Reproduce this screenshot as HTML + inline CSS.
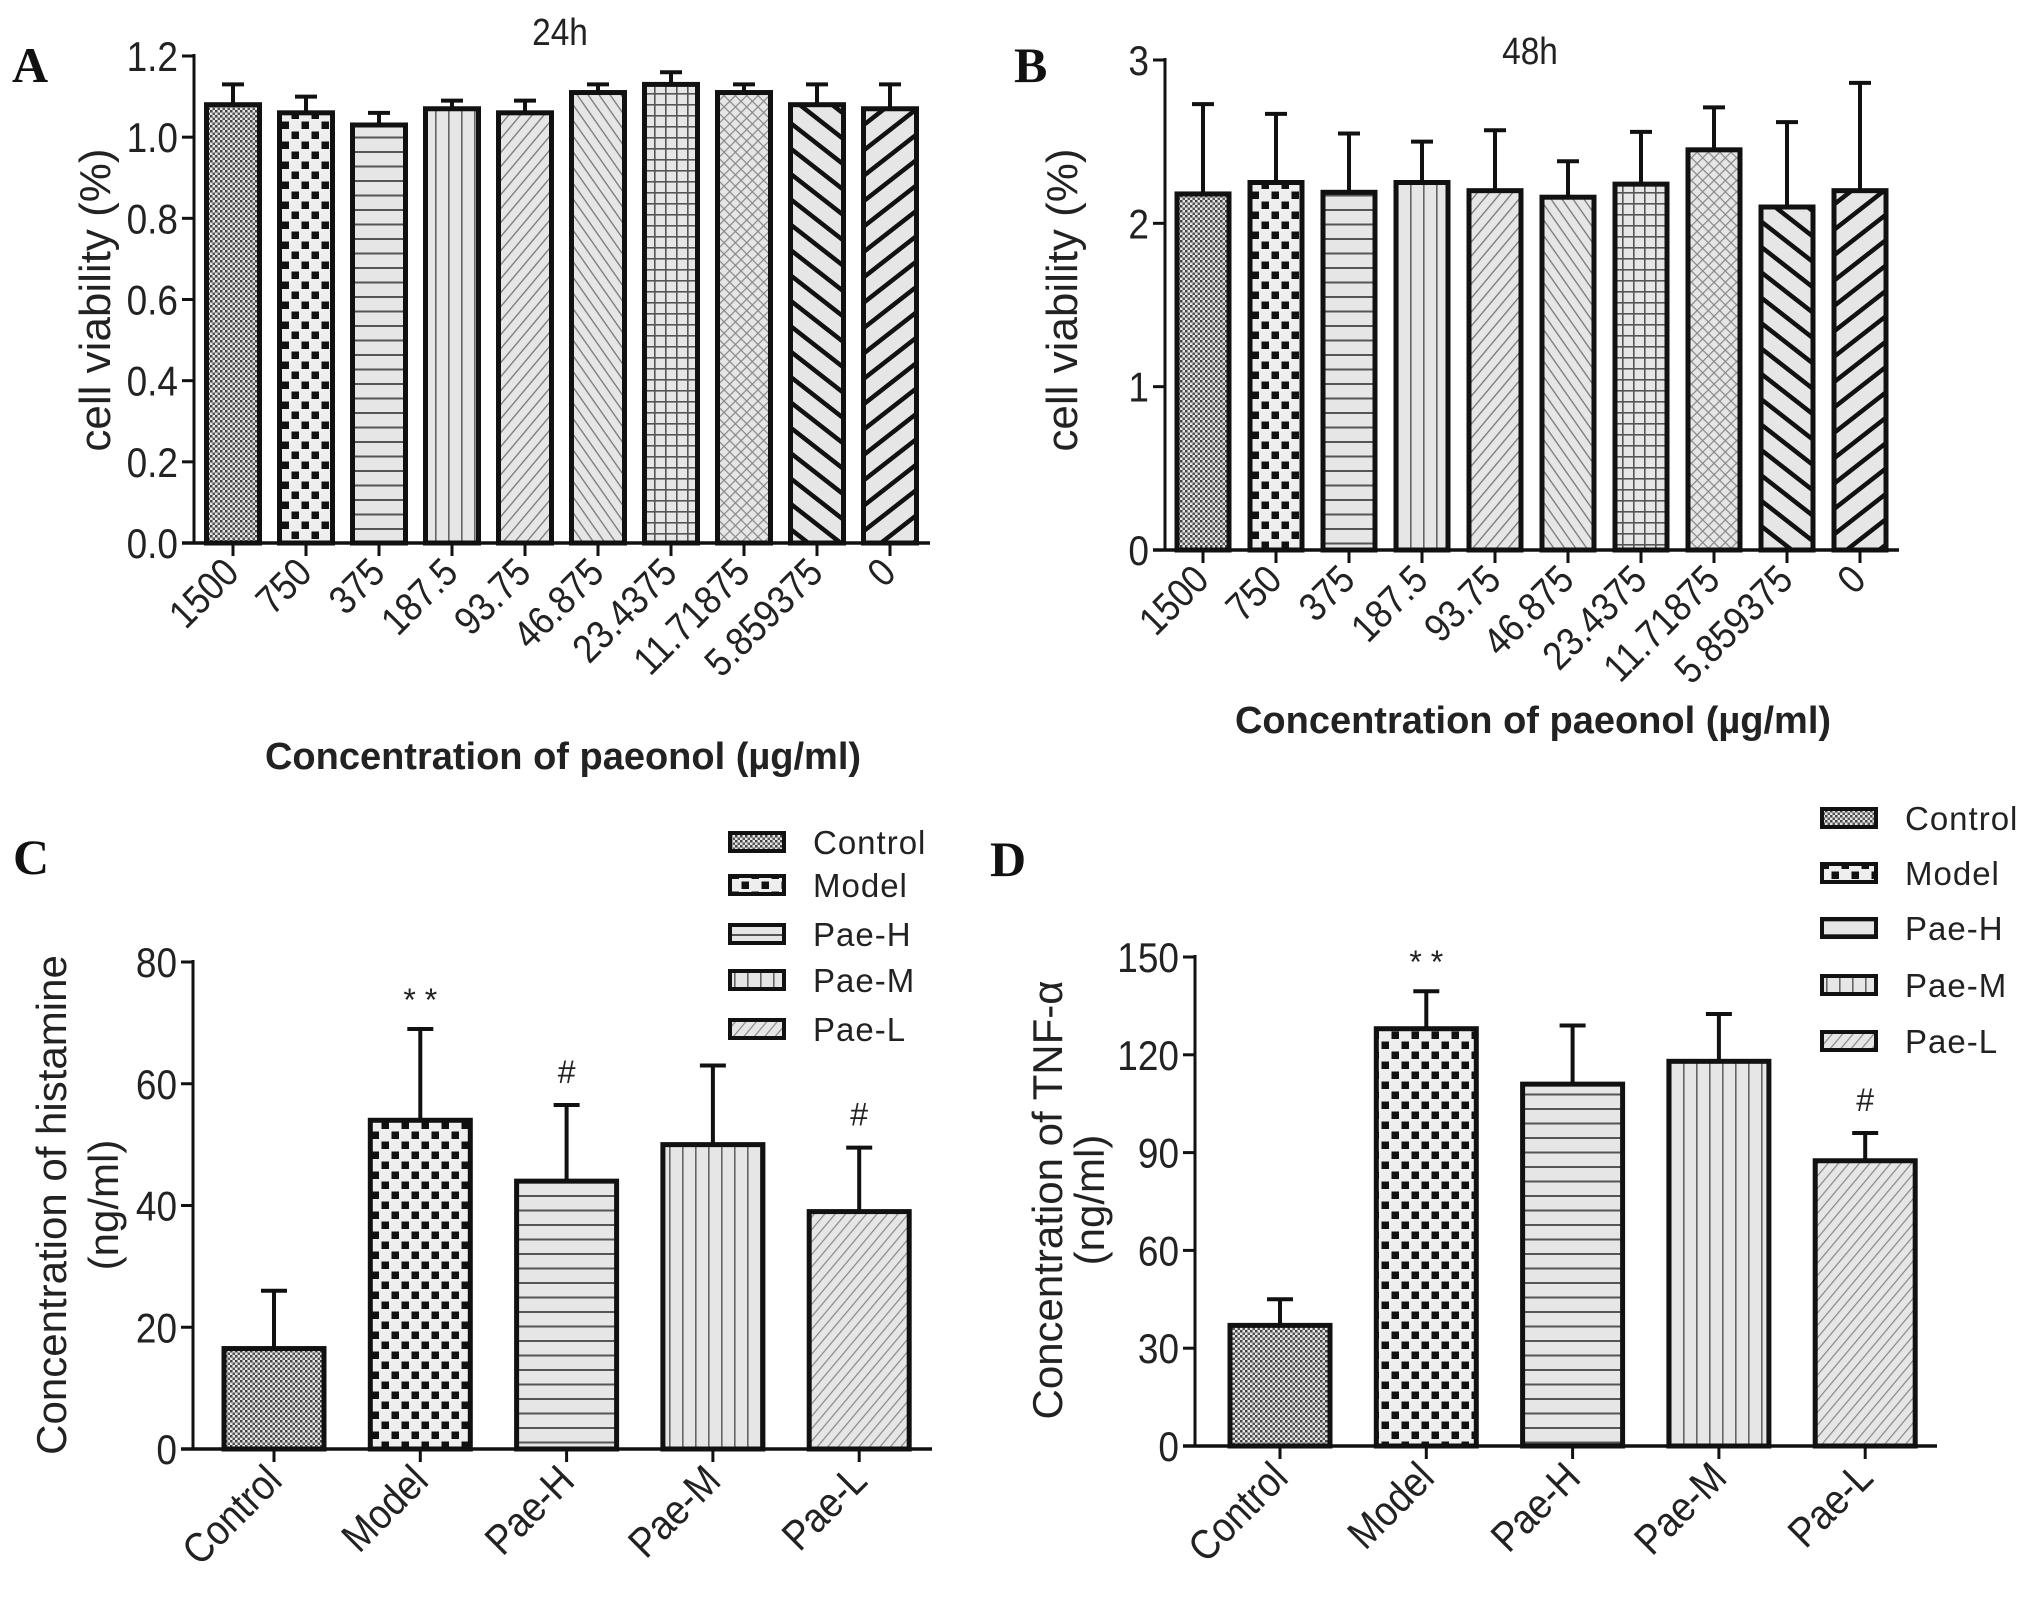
<!DOCTYPE html>
<html><head><meta charset="utf-8"><style>
html,body{margin:0;padding:0;background:#fff;}
svg{display:block;}
text{font-family:"Liberation Sans",Arial,sans-serif;fill:#222;}
.letter{font-family:"Liberation Serif",serif;font-weight:bold;fill:#111;}
</style></head><body>
<svg id="fig" width="2031" height="1605" viewBox="0 0 2031 1605" xmlns="http://www.w3.org/2000/svg">
<defs>
  <pattern id="p-control" width="5" height="5" patternUnits="userSpaceOnUse"><rect width="5" height="5" fill="#e6e6e6"/><rect width="2.5" height="2.5" fill="#444"/><rect x="2.5" y="2.5" width="2.5" height="2.5" fill="#555"/></pattern>
  <pattern id="p-model" width="20" height="20" patternUnits="userSpaceOnUse"><rect width="20" height="20" fill="#eee"/><rect x="1.5" y="1.5" width="7.5" height="7.5" fill="#111"/><rect x="11.5" y="11.5" width="7.5" height="7.5" fill="#111"/></pattern>
  <pattern id="p-horiz" width="10" height="14.5" patternUnits="userSpaceOnUse"><rect width="10" height="14.5" fill="#e6e6e6"/><rect y="6" width="10" height="2" fill="#555"/></pattern>
  <pattern id="p-vert" width="13" height="10" patternUnits="userSpaceOnUse"><rect width="13" height="10" fill="#e6e6e6"/><rect x="6" width="1.6" height="10" fill="#666"/></pattern>
  <pattern id="p-fwd" width="9" height="9" patternUnits="userSpaceOnUse" patternTransform="rotate(-50)"><rect width="9" height="9" fill="#e6e6e6"/><rect y="4" width="9" height="1.3" fill="#777"/></pattern>
  <pattern id="p-back" width="9" height="9" patternUnits="userSpaceOnUse" patternTransform="rotate(55)"><rect width="9" height="9" fill="#e6e6e6"/><rect y="4" width="9" height="1.3" fill="#777"/></pattern>
  <pattern id="p-grid" width="11" height="11" patternUnits="userSpaceOnUse"><rect width="11" height="11" fill="#e6e6e6"/><rect x="5" width="1.6" height="11" fill="#555"/><rect y="5" width="11" height="1.6" fill="#555"/></pattern>
  <pattern id="p-cross" width="8" height="8" patternUnits="userSpaceOnUse" patternTransform="rotate(45)"><rect width="8" height="8" fill="#e6e6e6"/><rect x="3" width="1.2" height="8" fill="#888"/><rect y="3" width="8" height="1.2" fill="#888"/></pattern>
  <pattern id="p-thickback" width="20" height="20" patternUnits="userSpaceOnUse" patternTransform="rotate(38)"><rect width="20" height="20" fill="#e6e6e6"/><rect y="8" width="20" height="4.5" fill="#111"/></pattern>
  <pattern id="p-thickfwd" width="20" height="20" patternUnits="userSpaceOnUse" patternTransform="rotate(-38)"><rect width="20" height="20" fill="#e6e6e6"/><rect y="8" width="20" height="4.5" fill="#111"/></pattern>
  <pattern id="p-fwdL" width="8" height="8" patternUnits="userSpaceOnUse" patternTransform="rotate(-50)"><rect width="8" height="8" fill="#e6e6e6"/><rect y="3.5" width="8" height="1.2" fill="#888"/></pattern>
</defs>
<g id="root"></g>
<text class="letter" x="12" y="82" font-size="50">A</text>
<text class="letter" x="1014" y="82" font-size="50">B</text>
<text class="letter" x="13" y="874" font-size="50">C</text>
<text class="letter" x="990" y="876" font-size="50">D</text>
<text class="nar" x="560" y="45" font-size="38" text-anchor="middle">24h</text>
<text class="nar" x="1530" y="64" font-size="38" text-anchor="middle">48h</text>
<text transform="translate(110,300) rotate(-90)" font-size="44" text-anchor="middle" fill="#333">cell viability (%)</text>
<text transform="translate(1077,300) rotate(-90)" font-size="44" text-anchor="middle" fill="#333">cell viability (%)</text>
<text x="563" y="769" font-size="38" font-weight="bold" text-anchor="middle" fill="#333">Concentration of paeonol (µg/ml)</text>
<text x="1533" y="733" font-size="38" font-weight="bold" text-anchor="middle" fill="#333">Concentration of paeonol (µg/ml)</text>
<text transform="translate(66,1205) rotate(-90)" font-size="42" text-anchor="middle" fill="#333">Concentration of histamine</text>
<text transform="translate(118,1205) rotate(-90)" font-size="42" text-anchor="middle" fill="#333">(ng/ml)</text>
<text transform="translate(1062,1200) rotate(-90)" font-size="42" text-anchor="middle" fill="#333">Concentration of TNF-α</text>
<text transform="translate(1104,1200) rotate(-90)" font-size="42" text-anchor="middle" fill="#333">(ng/ml)</text>
</svg>
<script>
// ---- Panel A data (24h) ----
const concCategories = ["1500","750","375","187.5","93.75","46.875","23.4375","11.71875","5.859375","0"];
const viability24 = [1.08,1.06,1.03,1.07,1.06,1.11,1.13,1.11,1.08,1.07];
const viability24ErrTop = [1.13,1.10,1.06,1.09,1.09,1.13,1.16,1.13,1.13,1.13];
const ticks24 = [0,0.2,0.4,0.6,0.8,1.0,1.2];
const tickLabels24 = ["0.0","0.2","0.4","0.6","0.8","1.0","1.2"];
// ---- Panel B data (48h) ----
const viability48 = [2.18,2.25,2.19,2.25,2.20,2.16,2.24,2.45,2.10,2.20];
const viability48ErrTop = [2.73,2.67,2.55,2.50,2.57,2.38,2.56,2.71,2.62,2.86];
const ticks48 = [0,1,2,3];
const tickLabels48 = ["0","1","2","3"];
// ---- Panel C data (histamine) ----
const groupCategories = ["Control","Model","Pae-H","Pae-M","Pae-L"];
const histamine = [16.5,54,44,50,39];
const histamineErrTop = [26,69,56.5,63,49.5];
const histamineMarks = ["","* *","#","","#"];
const ticksHist = [0,20,40,60,80];
const tickLabelsHist = ["0","20","40","60","80"];
// ---- Panel D data (TNF-a) ----
const tnf = [37,128,111,118,87.5];
const tnfErrTop = [45,139.5,129,132.5,96];
const tnfMarks = ["","* *","","","#"];
const ticksTnf = [0,30,60,90,120,150];
const tickLabelsTnf = ["0","30","60","90","120","150"];

const fills10 = ["p-control","p-model","p-horiz","p-vert","p-fwd","p-back","p-grid","p-cross","p-thickback","p-thickfwd"];
const fills5 = ["p-control","p-model","p-horiz","p-vert","p-fwdL"];

const NS = "http://www.w3.org/2000/svg";
const root = document.getElementById('root');
function mk(tag, attrs, parent){
  const e = document.createElementNS(NS, tag);
  for (const k in attrs) e.setAttribute(k, attrs[k]);
  (parent||root).appendChild(e);
  return e;
}

function panel(cfg){
  const g = mk('g', {});
  
  
  const yScale = v => cfg.y0 - (v - cfg.ymin)/(cfg.ymax - cfg.ymin)*(cfg.y0 - cfg.yTop);
  const xScale = i => cfg.firstX + i*cfg.pitch;
  cfg.values.forEach((v,i)=>{
    const cx = xScale(i);
    const yt = yScale(v);
    const eb = mk('line', {x1:cx, x2:cx, y1:yt, y2:yScale(cfg.err[i]), stroke:'#111','stroke-width':cfg.ebw}, g);
    
    
    const cap = mk('line', {x1:cx-cfg.cap/2, x2:cx+cfg.cap/2, y1:yScale(cfg.err[i]), y2:yScale(cfg.err[i]), stroke:'#111','stroke-width':cfg.ebw}, g);
    
    
    const r = mk('rect', {x:cx-cfg.bw/2, y:yt, width:cfg.bw, height:cfg.y0-yt, fill:'url(#'+cfg.fills[i]+')', stroke:'#111','stroke-width':cfg.bsw}, g);
    
    
    mk('line', {x1:cx, x2:cx, y1:cfg.y0, y2:cfg.y0+13, stroke:'#111','stroke-width':3}, g);
    const t = mk('text', {x:0, y:0, 'font-size':cfg.catFs, 'text-anchor':'end', 'class':'nar', transform:'translate('+(cx+cfg.catDx)+','+(cfg.y0+cfg.catDy)+') rotate(-45)'}, g);
    t.textContent = cfg.cats[i];
    
    
    if (cfg.marks && cfg.marks[i]){
      const m = mk('text', {x:cx, y:yScale(cfg.err[i]) - (cfg.marks[i]==='#'?22:18), 'font-size':32, 'text-anchor':'middle'}, g);
      m.textContent = cfg.marks[i];
      
      
    }
  });
  const ya = mk('line', {x1:cfg.x0, x2:cfg.x0, y1:cfg.yTop-2, y2:cfg.y0+1.5, stroke:'#111','stroke-width':3}, g);
  
  
  const xa = mk('line', {x1:cfg.x0-12, x2:cfg.xEnd, y1:cfg.y0, y2:cfg.y0, stroke:'#111','stroke-width':3.5}, g);
  
  
  cfg.ticks.forEach((tv,i)=>{
    const y = yScale(tv);
    mk('line', {x1:cfg.x0-12, x2:cfg.x0, y1:y, y2:y, stroke:'#111','stroke-width':3}, g);
    const t = mk('text', {x:cfg.x0-16, y:y+15, 'font-size':cfg.tickFs, 'text-anchor':'end', 'class':'nar'}, g);
    t.textContent = cfg.tickLabels[i];
    
    
  });
  return g;
}

panel({name:'panel-a-24h', x0:194, xEnd:930, y0:543, yTop:56, ymin:0, ymax:1.2, firstX:233, pitch:73, bw:53, cap:22, bsw:5, ebw:4,
  values:viability24, err:viability24ErrTop, cats:concCategories, fills:fills10, ticks:ticks24, tickLabels:tickLabels24, tickFs:42, catFs:40, catDx:8, catDy:32});
panel({name:'panel-b-48h', x0:1165, xEnd:1899, y0:550, yTop:60, ymin:0, ymax:3, firstX:1203, pitch:73, bw:52, cap:22, bsw:5, ebw:4,
  values:viability48, err:viability48ErrTop, cats:concCategories, fills:fills10, ticks:ticks48, tickLabels:tickLabels48, tickFs:42, catFs:40, catDx:8, catDy:32});
panel({name:'panel-c-histamine', x0:193, xEnd:932, y0:1449, yTop:962, ymin:0, ymax:80, firstX:274, pitch:146.3, bw:100, cap:26, bsw:5, ebw:4,
  values:histamine, err:histamineErrTop, cats:groupCategories, fills:fills5, marks:histamineMarks, ticks:ticksHist, tickLabels:tickLabelsHist, tickFs:42, catFs:42, catDx:10, catDy:34});
panel({name:'panel-d-tnf', x0:1195, xEnd:1937, y0:1446, yTop:957, ymin:0, ymax:150, firstX:1280, pitch:146.3, bw:100, cap:26, bsw:5, ebw:4,
  values:tnf, err:tnfErrTop, cats:groupCategories, fills:fills5, marks:tnfMarks, ticks:ticksTnf, tickLabels:tickLabelsTnf, tickFs:42, catFs:42, catDx:10, catDy:34});

function legend(x, ys, name){
  const g = mk('g', {});
  
  
  groupCategories.forEach((c,i)=>{
    const r = mk('rect', {x:x, y:ys[i]-9, width:54, height:18, fill:'url(#'+fills5[i]+')', stroke:'#111','stroke-width':4}, g);
    
    
    const t = mk('text', {x:x+83, y:ys[i]+12, 'font-size':33, 'letter-spacing':'1'}, g);
    t.textContent = c;
    
    
  });
}
legend(730, [842,885,934,980,1029], 'legend-c');
legend(1822, [818,873,928,985,1041], 'legend-d');

// narrow (condensed) look for tick labels
document.querySelectorAll('text.nar').forEach(t=>{
  const w = t.getComputedTextLength();
  if (w > 0){
    t.setAttribute('textLength', (w*0.88).toFixed(1));
    t.setAttribute('lengthAdjust', 'spacingAndGlyphs');
  }
});
</script>
</body></html>
